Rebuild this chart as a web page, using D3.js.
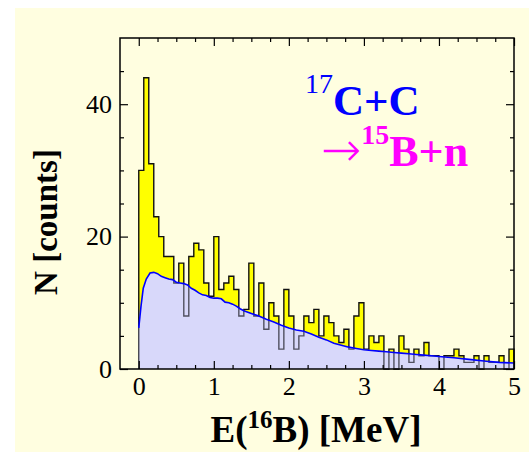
<!DOCTYPE html>
<html lang="en">
<head>
<meta charset="utf-8">
<title>16B decay energy spectrum</title>
<script src="https://d3js.org/d3.v7.min.js"></script>
<style>
  body { margin: 0; background: #fff; }
  text { font-family: "Liberation Serif", "Times New Roman", serif; }
  .tick text { font-size: 26px; fill: #000; }
  .tick line { stroke: #000; stroke-width: 1.2px; }
</style>
</head>
<body>
<script>

// set width and height
var w = 529;
var h = 457;
var margin = {top: 38, right: 15, bottom: 88, left: 120};
var innerWidth = w - margin.left - margin.right;
var innerHeight = h - margin.top - margin.bottom;

// data: measured counts, bins of 1/15 MeV starting at 0
var binWidth = 5 / 75;
var counts = [30, 44, 31, 23, 20, 17, 17, 13, 16, 8,
              17, 19, 18, 13, 11, 20, 12, 13, 14, 12,
              8, 9, 16, 8, 13, 6, 10, 8, 3, 12,
              8, 3, 5, 8, 7, 9, 5, 8, 7, 5,
              4, 6, 3, 8, 10, 3, 5, 4, 5, 0,
              3, 0, 5, 3, 1, 3, 2, 4, 2, 2,
              0, 2, 2, 3, 2, 1, 1, 2, 0, 2,
              1, 1, 2, 0, 3];

// simulated distribution (blue curve)
var curveE = [0, 0.03, 0.06, 0.10, 0.15, 0.20, 0.25, 0.30, 0.35, 0.40,
              0.45, 0.50, 0.55, 0.60, 0.65, 0.70, 0.75, 0.80, 0.85, 0.90,
              0.95, 1.00, 1.05, 1.10, 1.15, 1.20, 1.25, 1.30, 1.35, 1.40,
              1.50, 1.60, 1.70, 1.80, 1.90, 2.00, 2.10, 2.20, 2.30, 2.40,
              2.50, 2.60, 2.70, 2.80, 2.90, 3.00, 3.10, 3.20, 3.30, 3.40,
              3.50, 3.60, 3.70, 3.80, 3.90, 4.00, 4.20, 4.40, 4.60, 4.80, 5.00];
var curveN = [6.2, 9.5, 12.2, 13.6, 14.5, 14.6, 14.4, 14.0, 13.8, 13.6,
              13.5, 13.1, 13.0, 12.9, 12.7, 12.2, 11.9, 11.5, 11.2, 11.1,
              10.8, 10.7, 10.7, 10.6, 10.1, 10.0, 9.8, 9.5, 9.1, 8.8,
              8.4, 8.0, 7.5, 7.1, 6.6, 6.2, 5.9, 5.7, 5.3, 4.8,
              4.4, 3.9, 3.6, 3.3, 3.1, 2.9, 2.8, 2.7, 2.6, 2.5,
              2.4, 2.3, 2.2, 2.1, 2.0, 1.9, 1.7, 1.45, 1.2, 1.0, 0.9];

var xMajor = [0, 1, 2, 3, 4, 5];
var yMajor = [0, 20, 40];

var svg = d3.select("body")
            .append("svg")
            .attr("width", w)
            .attr("height", h);

// light yellow panel
svg.append("rect")
   .attr("x", 15).attr("y", 8)
   .attr("width", w - 15).attr("height", h - 13)
   .attr("fill", "#fffee0");

var xScale = d3.scaleLinear()
               .domain([-0.25, 5])
               .range([0, innerWidth]);

var yScale = d3.scaleLinear()
               .domain([0, 50])
               .range([innerHeight, 0]);

var g = svg.append("g")
           .attr("transform", `translate(${margin.left}, ${margin.top})`);

// histogram step points
var steps = [[0, 0]];
counts.forEach(function(c, i) {
  steps.push([i * binWidth, c]);
  steps.push([(i + 1) * binWidth, c]);
});
steps.push([counts.length * binWidth, 0]);

var histArea = d3.area()
                 .x(d => xScale(d[0]))
                 .y0(yScale(0))
                 .y1(d => yScale(d[1]));

var histLine = d3.line()
                 .x(d => xScale(d[0]))
                 .y(d => yScale(d[1]));

var curveData = curveE.map((e, i) => [e, curveN[i]]);

var simArea = d3.area()
                .x(d => xScale(d[0]))
                .y0(yScale(0))
                .y1(d => yScale(d[1]));

var simLine = d3.line()
                .x(d => xScale(d[0]))
                .y(d => yScale(d[1]));

// clip for the part of the histogram outline under the curve
g.append("clipPath")
 .attr("id", "underCurve")
 .append("path")
 .datum(curveData)
 .attr("d", simArea);

g.append("path")
 .datum(steps)
 .attr("d", histArea)
 .attr("fill", "#ffff00");

g.append("path")
 .datum(steps)
 .attr("d", histLine)
 .attr("fill", "none")
 .attr("stroke", "#111")
 .attr("stroke-width", 1.4);

g.append("path")
 .datum(curveData)
 .attr("d", simArea)
 .attr("fill", "#d8d8fa");

g.append("path")
 .datum(steps)
 .attr("d", histLine)
 .attr("clip-path", "url(#underCurve)")
 .attr("fill", "none")
 .attr("stroke", "#50505f")
 .attr("stroke-width", 1.4);

g.append("path")
 .datum(curveData)
 .attr("d", simLine)
 .attr("fill", "none")
 .attr("stroke", "#0000ff")
 .attr("stroke-width", 1.6);

// axes: inward ticks on all four sides
var xMinor = d3.range(1, 20).map(k => k * 0.25).filter(v => !xMajor.includes(v));
var yMinor = d3.range(1, 10).map(k => k * 5).filter(v => !yMajor.includes(v));

function addAxis(axis, tr, labels) {
  var a = g.append("g").attr("transform", tr).call(axis);
  a.select(".domain").remove();
  if (!labels) a.selectAll(".tick text").remove();
  return a;
}

addAxis(d3.axisBottom(xScale).tickValues(xMajor).tickSize(-8).tickPadding(8)
          .tickFormat(d3.format("d")), `translate(0, ${innerHeight})`, true);
addAxis(d3.axisBottom(xScale).tickValues(xMinor).tickSize(-4),
        `translate(0, ${innerHeight})`);
addAxis(d3.axisTop(xScale).tickValues(xMajor).tickSize(-8), "translate(0,0)");
addAxis(d3.axisTop(xScale).tickValues(xMinor).tickSize(-4), "translate(0,0)");

addAxis(d3.axisLeft(yScale).tickValues(yMajor).tickSize(-8).tickPadding(8)
          .tickFormat(d3.format("d")), "translate(0,0)", true);
addAxis(d3.axisLeft(yScale).tickValues(yMinor).tickSize(-4), "translate(0,0)");
addAxis(d3.axisRight(yScale).tickValues(yMajor).tickSize(-8),
        `translate(${innerWidth}, 0)`);
addAxis(d3.axisRight(yScale).tickValues(yMinor).tickSize(-4),
        `translate(${innerWidth}, 0)`);

g.selectAll(".tick text").attr("font-family", null).attr("font-size", null);

// frame
g.append("rect")
 .attr("width", innerWidth)
 .attr("height", innerHeight)
 .attr("fill", "none")
 .attr("stroke", "#000")
 .attr("stroke-width", 1.5);

// axis titles
svg.append("text")
   .attr("transform", "translate(57, 222) rotate(-90)")
   .attr("text-anchor", "middle")
   .attr("font-size", "33px")
   .attr("font-weight", "bold")
   .text("N [counts]");

var xt = svg.append("text")
            .attr("x", 316)
            .attr("y", 442)
            .attr("text-anchor", "middle")
            .attr("font-size", "37px")
            .attr("font-weight", "bold");
xt.append("tspan").text("E(");
xt.append("tspan").attr("dy", -14).attr("font-size", "25px").text("16");
xt.append("tspan").attr("dy", 14).text("B) [MeV]");

// reaction label
var r1 = svg.append("text")
            .attr("x", 305)
            .attr("y", 115)
            .attr("fill", "#0000ff");
r1.append("tspan").attr("dy", -22).attr("font-size", "28px").text("17");
r1.append("tspan").attr("dy", 22).attr("font-size", "43px").attr("font-weight", "bold").text("C+C");

var r2 = svg.append("text")
            .attr("x", 321)
            .attr("y", 166)
            .attr("fill", "#ff00ff");
r2.append("tspan").attr("font-family", "DejaVu Sans").attr("font-size", "48px")
  .attr("font-weight", "200").text("\u2192");
r2.append("tspan").attr("dy", -22).attr("font-size", "28px").attr("font-weight", "bold").text("15");
r2.append("tspan").attr("dy", 22).attr("font-size", "44px").attr("font-weight", "bold").text("B+n");

</script>
</body>
</html>
